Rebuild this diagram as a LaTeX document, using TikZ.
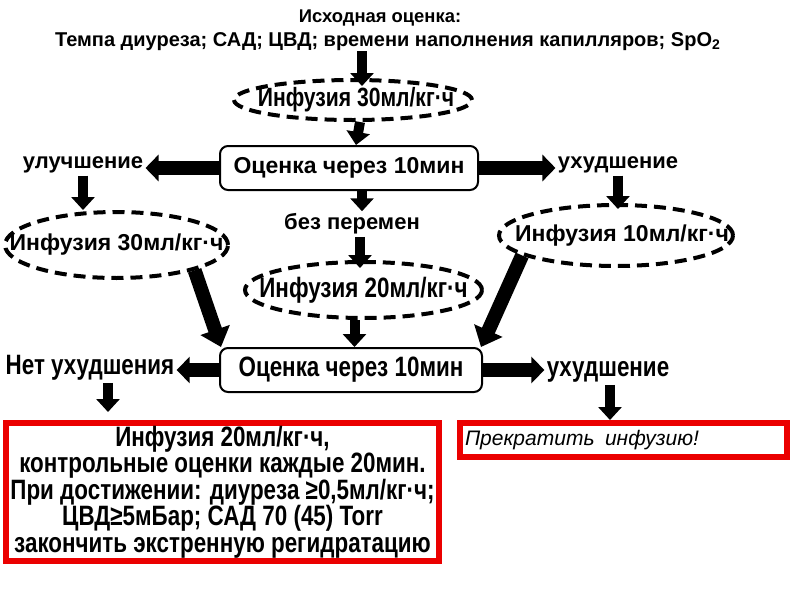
\documentclass[tikz,border=0pt]{standalone}
\usepackage{fontspec}
\setmainfont{Liberation Sans}
\newfontfamily\nar[FakeStretch=0.8]{Liberation Sans}
\usetikzlibrary{arrows.meta,shapes.geometric}
\definecolor{redbox}{RGB}{235,0,0}
\tikzset{
  oval/.style={ellipse, draw, line width=2pt, dash pattern=on 6pt off 3.5pt, inner sep=0pt},
  ovaltext/.style={inner sep=0pt},
  evalbox/.style={draw, rounded corners=4pt, line width=1pt, inner sep=0pt},
  redframe/.style={draw=redbox, line width=3pt, inner sep=0pt},
  lbl/.style={inner sep=1pt, font=\bfseries\fontsize{11}{13}\selectfont},
  nlbl/.style={inner sep=1pt, font=\nar\bfseries\fontsize{14}{16}\selectfont},
  varrow/.style={line width=5pt, -{Triangle[length=6.5pt, width=11.5pt]}},
  harrow/.style={line width=7pt, -{Triangle[length=6.5pt, width=13pt]}},
  darrow/.style={line width=7pt, -{Triangle[length=9pt, width=15pt]}},
}
\begin{document}
\begin{tikzpicture}[x=0.5pt,y=-0.5pt]
\useasboundingbox (0,0) rectangle (800,600);
\node[inner sep=0pt, font=\bfseries\fontsize{9.2}{12}\selectfont] (title1) at (380,18) {Исходная оценка:};
\node[inner sep=0pt, font=\bfseries\fontsize{10}{12}\selectfont] (title2) at (388,42) {Темпа диуреза; САД; ЦВД; времени наполнения капилляров; SpO\textsubscript{2}};
% ellipses
\node[oval, minimum width=119pt, minimum height=20pt] (e1) at (353,100) {};
\node[ovaltext, font=\nar\bfseries\fontsize{13.2}{16}\selectfont] (e1t) at ([xshift=1.5pt]e1.center) {Инфузия 30мл/кг·ч};
\node[oval, minimum width=111.5pt, minimum height=33pt] (e2) at (116.5,245) {};
\node[ovaltext, font=\bfseries\fontsize{11.5}{13}\selectfont] (e2t) at (e2.center) {Инфузия 30мл/кг·ч};
\node[oval, minimum width=117pt, minimum height=30.5pt] (e3) at (616,235.5) {};
\node[ovaltext, font=\bfseries\fontsize{11.5}{13}\selectfont] (e3t) at ([xshift=3pt]e3.center) {Инфузия 10мл/кг·ч};
\node[oval, minimum width=118.5pt, minimum height=28pt] (e4) at (363.5,290) {};
\node[ovaltext, font=\nar\bfseries\fontsize{14}{16}\selectfont] (e4t) at (e4.center) {Инфузия 20мл/кг·ч};
% boxes and labels
\node[evalbox, minimum width=129pt, minimum height=22pt, font=\bfseries\fontsize{11.5}{13}\selectfont] (b1) at (349,168) {Оценка через 10мин};
\node[lbl] (lup) at (83,165) {улучшение};
\node[lbl] (ldn) at (618,165) {ухудшение};
\node[lbl] (same) at (352,224) {без перемен};
\node[evalbox, minimum width=131pt, minimum height=22pt, font=\nar\bfseries\fontsize{14}{16}\selectfont] (b2) at (351,370) {Оценка через 10мин};
\node[nlbl] (nw) at (90,368) {Нет ухудшения};
\node[nlbl] (w2) at (608,372) {ухудшение};
\node[redframe, minimum width=216.5pt, minimum height=69pt, align=center, font=\nar\bfseries\fontsize{14}{13.3}\selectfont] (r1) at (222.5,492)
  {Инфузия 20мл/кг·ч,\\контрольные оценки каждые 20мин.\\При достижении: диуреза ≥0,5мл/кг·ч;\\ЦВД≥5мБар; САД 70 (45) Torr\\закончить экстренную регидратацию};
\node[redframe, minimum width=163.5pt, minimum height=17pt, text width=158.5pt, inner xsep=2.5pt, align=left, font=\itshape\fontsize{10.5}{13}\selectfont] (r2) at (623.5,440) {Прекратить\, инфузию!};
% arrows
\draw[varrow] ([xshift=4.5pt]e1.north |- title2.south) -- ([xshift=4.5pt,yshift=-4pt]e1.north);
\draw[varrow] ([xshift=3.5pt]e1.south) -- ([xshift=3.5pt]b1.north);
\draw[harrow] (b1.west) -- (b1.west -| lup.east);
\draw[harrow] (b1.east) -- (b1.east -| ldn.west);
\draw[varrow] (lup.south) -- (lup.south |- e2.north);
\draw[varrow] (ldn.south) -- ([yshift=-3pt]ldn.south |- e3.north);
\draw[varrow] ([xshift=6.5pt]b1.south) -- ([xshift=6.5pt]b1.south |- same.north);
\draw[varrow] ([xshift=4pt]same.south) -- ([xshift=4pt,yshift=-4pt]same.south |- e4.north);
\draw[varrow] ([xshift=-4.5pt]e4.south) -- ([xshift=-4.5pt]e4.south |- b2.north);
\draw[darrow] (e2.-18) -- ([xshift=1pt]b2.north west);
\draw[darrow] (e3.192) -- ([xshift=-1pt]b2.north east);
\draw[harrow] (b2.west) -- (b2.west -| nw.east);
\draw[harrow] (b2.east) -- (b2.east -| w2.west);
\draw[varrow] ([xshift=9pt]nw.south) -- ([xshift=9pt,yshift=4pt]nw.south |- r1.north);
\draw[varrow] ([xshift=1pt]w2.south) -- ([xshift=1pt]w2.south |- r2.north);
\end{tikzpicture}
\end{document}
